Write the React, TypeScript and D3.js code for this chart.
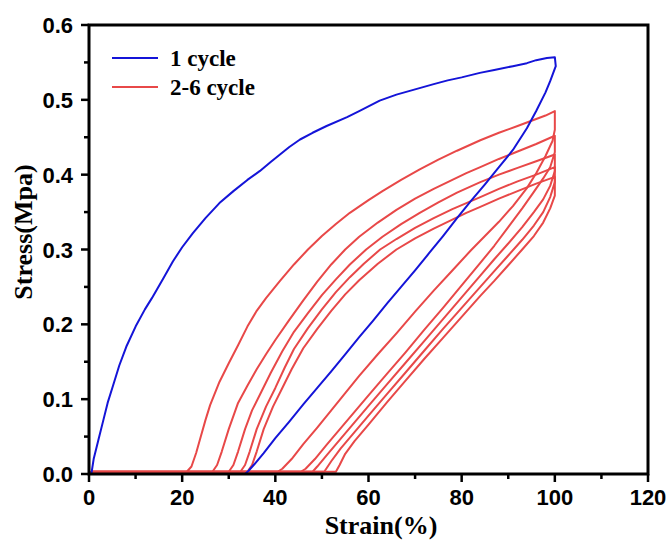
import React from "react";
import * as d3 from "d3";

type Pt = [number, number];

// Cycle 1 (loading + unloading), [strain %, stress MPa]
const cycle1: Pt[] = [
  [0.5, 0], [1, 0.02], [2, 0.045], [3, 0.07], [4, 0.095], [5, 0.115], [6.5, 0.145], [8, 0.17],
  [10, 0.197], [12, 0.22], [13.5, 0.235], [16, 0.262], [18, 0.284], [20, 0.303], [22.3, 0.322],
  [25, 0.342], [28, 0.362], [31, 0.378], [34, 0.393], [36.7, 0.405], [39, 0.417], [41, 0.427],
  [43, 0.437], [45.3, 0.447], [48, 0.456], [51, 0.465], [55.4, 0.477], [58, 0.485], [62.4, 0.499],
  [66, 0.507], [70, 0.514], [74, 0.521], [77, 0.526], [80, 0.53], [83.9, 0.536], [87, 0.54],
  [91, 0.545], [94, 0.549], [96, 0.553], [98.3, 0.556], [100, 0.557],
  [100.2, 0.545], [99, 0.525], [98, 0.51], [96, 0.485], [94, 0.462], [91, 0.433], [88, 0.41],
  [85, 0.387], [82, 0.365], [79, 0.342], [76, 0.318], [73, 0.295], [70, 0.272], [67, 0.25],
  [64, 0.228], [61, 0.205], [58, 0.183], [55, 0.16], [52, 0.137], [49, 0.115], [46, 0.093],
  [43, 0.07], [40, 0.048], [37.5, 0.028], [35.5, 0.013], [34.2, 0.004], [33.5, 0],
];

const cycle2: Pt[] = [
  [0.5, 0.003], [21, 0.003], [22, 0.01], [23, 0.028], [24, 0.05], [25, 0.072], [26, 0.092],
  [28, 0.123], [30, 0.148], [32, 0.172], [34, 0.197], [36, 0.218], [38, 0.235], [41, 0.258],
  [44, 0.28], [47, 0.3], [50, 0.318], [53, 0.334], [56, 0.349], [60, 0.366], [63, 0.378],
  [67, 0.393], [71, 0.407], [75, 0.42], [79, 0.432], [84, 0.446], [88, 0.456], [92, 0.465],
  [95, 0.472], [98, 0.479], [100, 0.485],
  [100, 0.46], [99.5, 0.445], [98, 0.425], [96, 0.402], [94, 0.382], [91, 0.358], [88, 0.337],
  [85, 0.318], [82, 0.299], [78, 0.272], [74, 0.245], [70, 0.217], [66, 0.188], [62, 0.16],
  [58, 0.131], [55, 0.108], [52, 0.085], [49, 0.062], [46, 0.04], [43.5, 0.02], [41.5, 0.007],
  [40.5, 0.003], [0.5, 0.003],
];

const cycle3: Pt[] = [
  [0.5, 0.003], [26.5, 0.003], [27.5, 0.012], [28.5, 0.03], [30, 0.06], [32, 0.095], [34, 0.118],
  [36, 0.14], [38, 0.16], [40, 0.179], [43, 0.206], [46, 0.232], [49, 0.257], [52, 0.28],
  [55, 0.3], [58, 0.317], [62, 0.336], [66, 0.353], [70, 0.368], [74, 0.381], [78, 0.393],
  [81, 0.402], [84, 0.41], [88, 0.421], [92, 0.431], [96, 0.441], [100, 0.452],
  [100, 0.43], [99, 0.41], [97.5, 0.395], [95.5, 0.377], [93, 0.355], [90, 0.33], [87, 0.305],
  [84, 0.282], [80, 0.252], [76, 0.222], [72, 0.193], [68, 0.163], [64, 0.134], [60, 0.105],
  [57, 0.083], [54, 0.061], [51, 0.039], [48.5, 0.02], [46.5, 0.007], [45.5, 0.003], [0.5, 0.003],
];

const cycle4: Pt[] = [
  [0.5, 0.003], [30, 0.003], [31, 0.012], [32, 0.03], [33.5, 0.06], [35, 0.085], [37, 0.11],
  [39, 0.135], [41.5, 0.164], [44, 0.19], [47, 0.215], [50, 0.239], [53, 0.26], [56, 0.28],
  [59.5, 0.3], [63, 0.317], [67, 0.334], [71, 0.349], [75, 0.363], [79, 0.376], [84, 0.39],
  [88, 0.4], [92, 0.409], [96, 0.418], [100, 0.427],
  [100, 0.405], [99, 0.385], [97.5, 0.367], [95.5, 0.35], [93, 0.33], [90, 0.308], [87, 0.287],
  [84, 0.265], [80, 0.236], [76, 0.207], [72, 0.178], [68, 0.149], [64, 0.12], [60, 0.091],
  [57, 0.069], [54, 0.047], [51, 0.025], [49, 0.01], [48, 0.003], [0.5, 0.003],
];

const cycle5: Pt[] = [
  [0.5, 0.003], [32.5, 0.003], [33.5, 0.012], [34.5, 0.03], [36, 0.06], [38, 0.09], [40, 0.115],
  [42, 0.142], [44, 0.167], [47, 0.195], [50, 0.22], [53, 0.243], [56, 0.263], [59, 0.281],
  [62.5, 0.3], [66, 0.314], [70, 0.329], [74, 0.342], [78, 0.354], [81, 0.362], [84, 0.37],
  [88, 0.381], [92, 0.391], [96, 0.4], [100, 0.41],
  [100, 0.39], [99, 0.37], [97.5, 0.35], [95.5, 0.332], [93, 0.313], [90, 0.292], [87, 0.271],
  [84, 0.25], [80, 0.222], [76, 0.194], [72, 0.165], [68, 0.136], [64, 0.107], [60, 0.078],
  [57, 0.056], [54, 0.034], [52, 0.017], [50.5, 0.003], [0.5, 0.003],
];

const cycle6: Pt[] = [
  [0.5, 0.003], [34, 0.003], [35, 0.012], [36, 0.03], [37.5, 0.06], [39.5, 0.09], [41.5, 0.115],
  [43.5, 0.14], [46, 0.168], [49, 0.194], [52, 0.218], [55, 0.24], [58, 0.259], [62, 0.281],
  [66, 0.3], [70, 0.315], [74, 0.328], [78, 0.34], [81, 0.349], [84, 0.357], [88, 0.368],
  [92, 0.378], [96, 0.388], [100, 0.397],
  [100, 0.372], [99, 0.355], [97.5, 0.336], [95.5, 0.318], [93, 0.3], [90, 0.279], [87, 0.258],
  [84, 0.238], [80, 0.21], [76, 0.182], [72, 0.154], [68, 0.125], [64, 0.096], [60, 0.066],
  [57, 0.044], [55, 0.027], [53.8, 0.012], [53, 0.003], [0.5, 0.003],
];

const redCycles: Pt[][] = [cycle2, cycle3, cycle4, cycle5, cycle6];

const xTicks = [0, 20, 40, 60, 80, 100, 120];
const xMinorTicks = [10, 30, 50, 70, 90, 110];
const yTicks = [0.0, 0.1, 0.2, 0.3, 0.4, 0.5, 0.6];
const yMinorTicks = [0.05, 0.15, 0.25, 0.35, 0.45, 0.55];
const legendLabels = ["1 cycle", "2-6 cycle"];

const BLUE = "#1414d8";
const RED = "#e84848";

export default function App() {
  const left = 89, right = 648, top = 25, bottom = 474;
  const x = d3.scaleLinear().domain([0, 120]).range([left, right]);
  const y = d3.scaleLinear().domain([0, 0.6]).range([bottom, top]);
  const line = d3.line<Pt>().x((d) => x(d[0])).y((d) => y(d[1]));

  const tickFont = { fontFamily: "'Liberation Sans', Arial, sans-serif", fontWeight: 700, fontSize: 22 };
  const serifFont = { fontFamily: "'Liberation Serif', 'Times New Roman', serif", fontWeight: 700 };

  return (
    <svg width={672} height={540} style={{ position: "absolute", left: 0, top: 0, background: "#fff" }}>
      <rect x={0} y={0} width={672} height={540} fill="#fff" />
      {/* data */}
      <g fill="none" strokeWidth={2} strokeLinejoin="round" strokeLinecap="round">
        {redCycles.map((c, i) => (
          <path key={i} d={line(c) || ""} stroke={RED} />
        ))}
        <path d={line(cycle1) || ""} stroke={BLUE} />
      </g>
      {/* frame */}
      <rect x={left} y={top} width={right - left} height={bottom - top} fill="none" stroke="#000" strokeWidth={3} />
      {/* ticks */}
      <g stroke="#000" strokeWidth={2.5}>
        {xTicks.map((t) => (
          <line key={"xt" + t} x1={x(t)} x2={x(t)} y1={bottom} y2={bottom + 8} />
        ))}
        {xMinorTicks.map((t) => (
          <line key={"xm" + t} x1={x(t)} x2={x(t)} y1={bottom} y2={bottom + 5} />
        ))}
        {yTicks.map((t) => (
          <line key={"yt" + t} x1={left - 8} x2={left} y1={y(t)} y2={y(t)} />
        ))}
        {yMinorTicks.map((t) => (
          <line key={"ym" + t} x1={left - 5} x2={left} y1={y(t)} y2={y(t)} />
        ))}
      </g>
      {xTicks.map((t) => (
        <text key={"xl" + t} x={x(t)} y={505} textAnchor="middle" style={tickFont} fill="#000">
          {t}
        </text>
      ))}
      {yTicks.map((t) => (
        <text key={"yl" + t} x={73} y={y(t) + 8} textAnchor="end" style={tickFont} fill="#000">
          {t.toFixed(1)}
        </text>
      ))}
      {/* axis titles */}
      <text x={381} y={534} textAnchor="middle" style={{ ...serifFont, fontSize: 26 }} fill="#000">
        Strain(%)
      </text>
      <text
        transform={`translate(32, 232) rotate(-90)`}
        textAnchor="middle"
        style={{ ...serifFont, fontSize: 26 }}
        fill="#000"
      >
        Stress(Mpa)
      </text>
      {/* legend */}
      <line x1={112} x2={158} y1={58} y2={58} stroke={BLUE} strokeWidth={2} />
      <text x={170} y={65.5} style={{ ...serifFont, fontSize: 23 }} fill="#000">
        {legendLabels[0]}
      </text>
      <line x1={112} x2={158} y1={87} y2={87} stroke={RED} strokeWidth={2} />
      <text x={170} y={95} style={{ ...serifFont, fontSize: 23 }} fill="#000">
        {legendLabels[1]}
      </text>
    </svg>
  );
}
